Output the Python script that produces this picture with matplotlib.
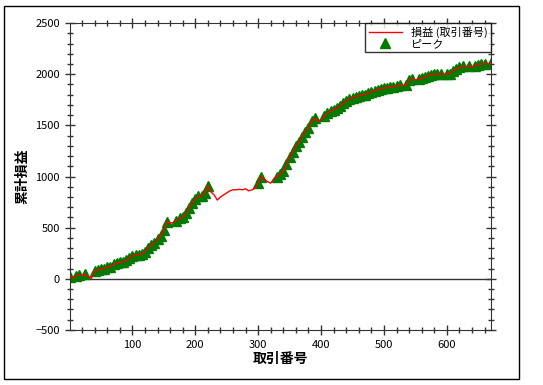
import numpy as np
import matplotlib.pyplot as plt
from matplotlib.patches import Rectangle

plt.rcParams['font.family'] = ['Noto Sans CJK JP', 'DejaVu Sans']

# trade number (every 5 trades) and cumulative P/L
trade_no = np.arange(0, 671, 5)
cum_pl = [
    20, 10, 30, 35, 30, 45, 20, 5, 75, 85,
    95, 100, 115, 120, 140, 150, 160, 165, 180, 200,
    225, 230, 230, 245, 265, 300, 330, 350, 390, 420,
    480, 560, 545, 550, 570, 590, 600, 640, 690, 740,
    780, 805, 810, 840, 910, 850, 820, 770, 800, 820,
    840, 860, 870, 870, 875, 870, 880, 860, 870, 885,
    940, 1000, 970, 950, 935, 980, 1000, 1020, 1050, 1120,
    1195, 1240, 1295, 1340, 1390, 1440, 1475, 1540, 1570, 1540,
    1555, 1590, 1620, 1640, 1655, 1670, 1690, 1715, 1735, 1760,
    1770, 1780, 1790, 1795, 1800, 1815, 1830, 1840, 1850, 1855,
    1865, 1870, 1875, 1880, 1885, 1895, 1885, 1895, 1945, 1950,
    1945, 1950, 1960, 1975, 1985, 1995, 2000, 2000, 2005, 2000,
    2005, 2005, 2035, 2050, 2070, 2080, 2075, 2080, 2070, 2085,
    2095, 2100, 2105, 2100, 2110,
]

line_label = "損益 (取引番号)"
peak_label = "ピーク"

cum_pl = np.array(cum_pl)
is_peak = cum_pl >= np.maximum.accumulate(cum_pl)

fig = plt.figure(figsize=(5.43, 3.85), dpi=100)
ax = fig.add_axes([0.128, 0.143, 0.776, 0.797])

ax.axhline(0, color="#333333", lw=1.0, zorder=1)
ax.plot(trade_no, cum_pl, color="red", lw=1.0, zorder=3, label=line_label)
ax.plot(trade_no[is_peak], cum_pl[is_peak], ls="none", marker="^",
        color="#007a00", markersize=7, zorder=2, label=peak_label)

ax.set_xlim(0, 670)
ax.set_ylim(-500, 2500)
ax.set_xticks([100, 200, 300, 400, 500, 600])
ax.set_xticks(np.arange(20, 670, 20), minor=True)
ax.set_yticks(np.arange(-500, 2501, 500))
ax.set_yticks(np.arange(-500, 2501, 100), minor=True)
ax.tick_params(which="both", direction="inout", top=True, right=True,
               colors="#333333", labelcolor="black", labelsize=8)
ax.tick_params(which="major", length=7, width=1)
ax.tick_params(which="minor", length=5, width=1)
for s in ax.spines.values():
    s.set_color("#333333")

ax.set_xlabel("取引番号", fontsize=10, fontweight="bold", labelpad=2)
ax.set_ylabel("累計損益", fontsize=10, fontweight="bold", labelpad=4)

leg = ax.legend(loc="upper right", fontsize=8, frameon=True, fancybox=False,
                borderaxespad=0, handlelength=3, labelspacing=0.1,
                borderpad=0.3)
leg.get_frame().set_edgecolor("black")
leg.get_frame().set_linewidth(1)

fig.patches.append(Rectangle((4 / 543, 6 / 385), 515 / 543, 373 / 385,
                             transform=fig.transFigure, fill=False,
                             edgecolor="black", lw=1))

fig.savefig("out.png", dpi=100)
